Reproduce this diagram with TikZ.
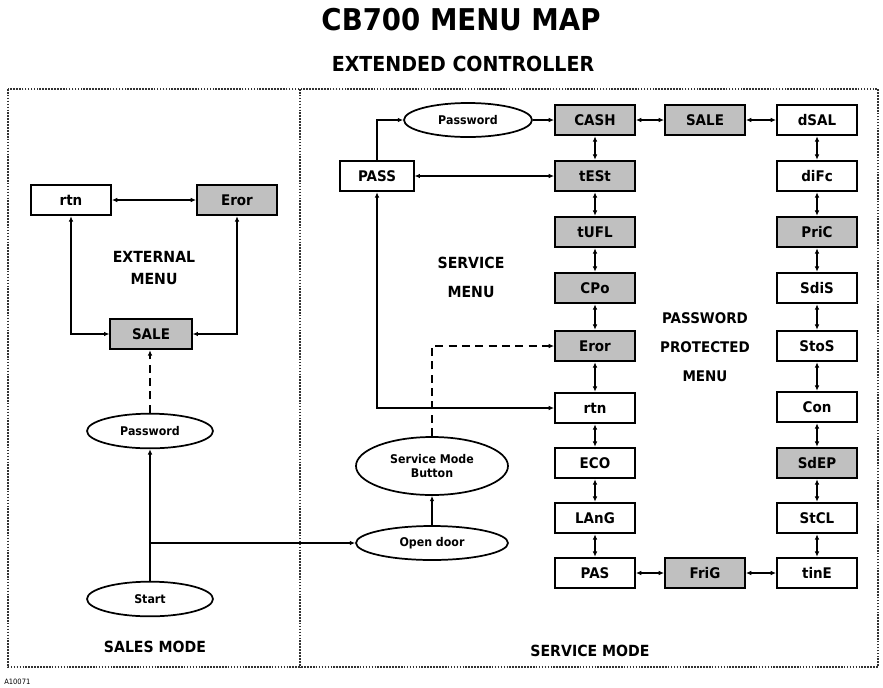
\documentclass[tikz,border=0pt]{standalone}
\usepackage{fontspec}
\setmainfont{DejaVu Sans}[FakeStretch=0.92]
\usetikzlibrary{arrows.meta,shapes.geometric}
\definecolor{boxgray}{RGB}{192,192,192}
\tikzset{
  menubox/.style={draw, line width=1.4pt, rectangle, minimum width=60pt, minimum height=23pt, inner sep=0pt, font=\fontsize{11}{13}\selectfont\bfseries, fill=white},
  graybox/.style={menubox, fill=boxgray},
  oval/.style={draw, line width=1.3pt, ellipse, inner sep=0pt, font=\fontsize{9}{10.5}\selectfont\bfseries, align=center},
  sectlabel/.style={font=\fontsize{11.5}{21.75}\selectfont\bfseries, align=center},
  conn/.style={line width=1.1pt},
  arr/.style={conn, -{Latex[length=4pt,width=3.5pt]}},
  dbl/.style={conn, {Latex[length=4pt,width=3.5pt]}-{Latex[length=4pt,width=3.5pt]}},
  dotframe/.style={line width=1.5pt, dash pattern=on 1.2pt off 1pt, draw=black!80}
}
\begin{document}
\begin{tikzpicture}[x=0.75pt,y=-0.75pt]
\useasboundingbox (0,0) rectangle (883,687);
% titles
\node (title) at (461,20) {\fontsize{22.5}{26}\selectfont\bfseries CB700 MENU MAP};
\node (subtitle) at (463,64) {\fontsize{15.5}{18}\selectfont\bfseries EXTENDED CONTROLLER};
% frames
\draw[dotframe] (8,89) rectangle (878,667);
\draw[dotframe] (300,89) -- (300,667);
\node[anchor=west, inner sep=0pt] (code) at (4,682) {\fontsize{5.5}{6}\selectfont A10071};
% ---------- Sales mode panel ----------
\node[menubox] (lrtn) at (71,200) {rtn};
\node[graybox] (leror) at (237,200) {Eror};
\node[graybox, minimum width=61pt] (lsale) at (151,334) {SALE};
\node[sectlabel, font=\fontsize{11.5}{16.5}\selectfont\bfseries] (extmenu) at (154,268) {EXTERNAL\\MENU};
\node[oval, minimum width=94.5pt, minimum height=26pt] (lpw) at (150,431) {Password};
\node[oval, minimum width=94.5pt, minimum height=26pt] (start) at (150,599) {Start};
\node[sectlabel] (salesmode) at (155,647) {SALES MODE};
\coordinate (br) at (150,543);
\draw[dbl] (lrtn) -- (leror);
\draw[dbl] (lrtn.south) |- (lsale.west);
\draw[dbl] (leror.south) |- (lsale.east);
\draw[arr, dash pattern=on 6pt off 4pt] (lpw.north) -- (lpw.north |- lsale.south);
\draw[arr] (start.north) -- (lpw.south);
% ---------- Service mode panel ----------
\node[oval, minimum width=96pt, minimum height=25.5pt] (mpw) at (468,120) {Password};
\node[menubox, minimum width=55pt] (pass) at (377,176) {PASS};
\node[graybox] (cash) at (595,120) {CASH};
\node[graybox] (test) at (595,176) {tESt};
\node[graybox] (tufl) at (595,232) {tUFL};
\node[graybox] (cpo) at (595,288) {CPo};
\node[graybox] (eror) at (595,346) {Eror};
\node[menubox] (mrtn) at (595,408) {rtn};
\node[menubox] (eco) at (595,463) {ECO};
\node[menubox] (lang) at (595,518) {LAnG};
\node[menubox] (pas) at (595,573) {PAS};
\node[graybox] (sale) at (705,120) {SALE};
\node[graybox] (frig) at (705,573) {FriG};
\node[menubox] (dsal) at (817,120) {dSAL};
\node[menubox] (difc) at (817,176) {diFc};
\node[graybox] (pric) at (817,232) {PriC};
\node[menubox] (sdis) at (817,288) {SdiS};
\node[menubox] (stos) at (817,346) {StoS};
\node[menubox] (con) at (817,407) {Con};
\node[graybox] (sdep) at (817,463) {SdEP};
\node[menubox] (stcl) at (817,518) {StCL};
\node[menubox] (tine) at (817,573) {tinE};
\node[sectlabel] (servmenu) at (471,277) {SERVICE\\MENU};
\node[sectlabel, font=\fontsize{11}{22}\selectfont\bfseries] (ppmenu) at (705,347) {PASSWORD\\PROTECTED\\MENU};
\node[oval, minimum width=114pt, minimum height=43.5pt] (smb) at (432,466) {Service Mode\\Button};
\node[oval, minimum width=114pt, minimum height=25.5pt] (opendoor) at (432,543) {Open door};
\node[sectlabel] (servmode) at (590,651) {SERVICE MODE};
% connectors
\draw[arr] (br) -- (opendoor.west);
\draw[arr] (pass.north) |- (mpw.west);
\draw[arr] (mpw) -- (cash);
\draw[dbl] (pass) -- (test);
\draw[dbl] (pass.south) |- (mrtn.west);
\draw[arr, dash pattern=on 6pt off 4pt] (smb.north) |- (eror.west);
\draw[arr] (opendoor) -- (smb);
\draw[dbl] (cash) -- (test);
\draw[dbl] (test) -- (tufl);
\draw[dbl] (tufl) -- (cpo);
\draw[dbl] (cpo) -- (eror);
\draw[dbl] (eror) -- (mrtn);
\draw[dbl] (mrtn) -- (eco);
\draw[dbl] (eco) -- (lang);
\draw[dbl] (lang) -- (pas);
\draw[dbl] (cash) -- (sale);
\draw[dbl] (sale) -- (dsal);
\draw[dbl] (pas) -- (frig);
\draw[dbl] (frig) -- (tine);
\draw[dbl] (dsal) -- (difc);
\draw[dbl] (difc) -- (pric);
\draw[dbl] (pric) -- (sdis);
\draw[dbl] (sdis) -- (stos);
\draw[dbl] (stos) -- (con);
\draw[dbl] (con) -- (sdep);
\draw[dbl] (sdep) -- (stcl);
\draw[dbl] (stcl) -- (tine);
\end{tikzpicture}
\end{document}
